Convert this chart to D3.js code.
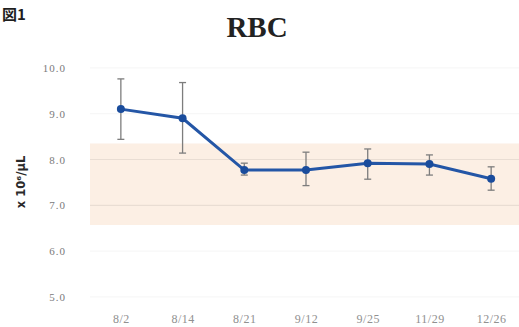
<!DOCTYPE html>
<html>
<head>
<meta charset="utf-8">
<script src="https://cdn.jsdelivr.net/npm/d3@7"></script>
<style>
  html, body { margin: 0; padding: 0; background: #fff; overflow: hidden; }
  svg { display: block; }
</style>
</head>
<body>
<svg id="chart" width="519" height="327"></svg>
<script>
// Sampling dates
const dates = ["8/2", "8/14", "8/21", "9/12", "9/25", "11/29", "12/26"];
// RBC mean and ±SD bounds (x 10^6/μL)
const meanValues = [9.10, 8.90, 7.77, 7.77, 7.92, 7.90, 7.58];
const lowerValues = [8.44, 8.14, 7.66, 7.43, 7.57, 7.66, 7.33];
const upperValues = [9.76, 9.68, 7.92, 8.16, 8.23, 8.10, 7.84];
// Reference range shading
const refRange = [6.57, 8.35];
// Y axis ticks
const yTicks = [5.0, 6.0, 7.0, 8.0, 9.0, 10.0];

const svg = d3.select("#chart");

const x = d3.scalePoint().domain(dates).range([90, 522]).padding(0.5);
const y = d3.scaleLinear().domain([5, 10]).range([296.9, 67.9]);

// faint horizontal grid
svg.append("g").selectAll("line").data(yTicks).join("line")
  .attr("x1", 90).attr("x2", 519)
  .attr("y1", d => y(d)).attr("y2", d => y(d))
  .attr("stroke", "#f5f5f5").attr("stroke-width", 1);

// reference band
svg.append("rect")
  .attr("x", 90).attr("width", 432)
  .attr("y", y(refRange[1])).attr("height", y(refRange[0]) - y(refRange[1]))
  .attr("fill", "#fcefe4");

// grid lines inside the band
svg.append("g").selectAll("line").data(yTicks.filter(t => t > refRange[0] && t < refRange[1])).join("line")
  .attr("x1", 90).attr("x2", 519)
  .attr("y1", d => y(d)).attr("y2", d => y(d))
  .attr("stroke", "#e9ddd3").attr("stroke-width", 1.2);

// y axis labels
const yAxis = d3.axisLeft(y).tickValues(yTicks).tickFormat(d3.format(".1f")).tickSize(0).tickPadding(0);
const gy = svg.append("g").attr("transform", "translate(66,0)").call(yAxis);
gy.select(".domain").remove();
gy.selectAll("text")
  .attr("fill", "#7a7a7a")
  .style("font-family", "'Liberation Serif', serif")
  .style("font-size", "11px")
  .style("letter-spacing", "1px");

// x axis labels
const xAxis = d3.axisBottom(x).tickSize(0).tickPadding(0);
const gx = svg.append("g").attr("transform", "translate(0,314)").call(xAxis);
gx.select(".domain").remove();
gx.selectAll("text")
  .attr("fill", "#909090")
  .style("font-family", "'Liberation Serif', serif")
  .style("font-size", "12px")
  .style("letter-spacing", "0.5px");

// error bars
const eb = svg.append("g").attr("stroke", "#7d7d7d").attr("stroke-width", 1.3);
dates.forEach((d, i) => {
  const cx = x(d);
  eb.append("line").attr("x1", cx).attr("x2", cx).attr("y1", y(upperValues[i])).attr("y2", y(lowerValues[i]));
  eb.append("line").attr("x1", cx - 3.5).attr("x2", cx + 3.5).attr("y1", y(upperValues[i])).attr("y2", y(upperValues[i]));
  eb.append("line").attr("x1", cx - 3.5).attr("x2", cx + 3.5).attr("y1", y(lowerValues[i])).attr("y2", y(lowerValues[i]));
});

// mean line
const line = d3.line().x((d, i) => x(dates[i])).y(d => y(d));
svg.append("path").datum(meanValues)
  .attr("d", line)
  .attr("fill", "none")
  .attr("stroke", "#2456a6")
  .attr("stroke-width", 3);

svg.append("g").selectAll("circle").data(meanValues).join("circle")
  .attr("cx", (d, i) => x(dates[i]))
  .attr("cy", d => y(d))
  .attr("r", 4)
  .attr("fill", "#1a4c9c");

// title
svg.append("text")
  .attr("x", 257).attr("y", 37)
  .attr("text-anchor", "middle")
  .style("font-family", "'Liberation Serif', serif")
  .style("font-weight", "bold")
  .style("font-size", "29px")
  .attr("fill", "#222")
  .text("RBC");

// figure number
svg.append("text")
  .attr("x", 2).attr("y", 20)
  .style("font-family", "'Noto Sans CJK JP', sans-serif")
  .style("font-weight", "bold")
  .style("font-size", "15px")
  .attr("fill", "#1e1e1e")
  .text("図1");

// y axis title
svg.append("text")
  .attr("transform", "translate(25,182) rotate(-90)")
  .attr("text-anchor", "middle")
  .style("font-family", "'DejaVu Sans', sans-serif")
  .style("font-weight", "bold")
  .style("font-size", "11.5px")
  .attr("fill", "#2a2a2a")
  .text("x 10⁶/μL");
</script>
</body>
</html>
